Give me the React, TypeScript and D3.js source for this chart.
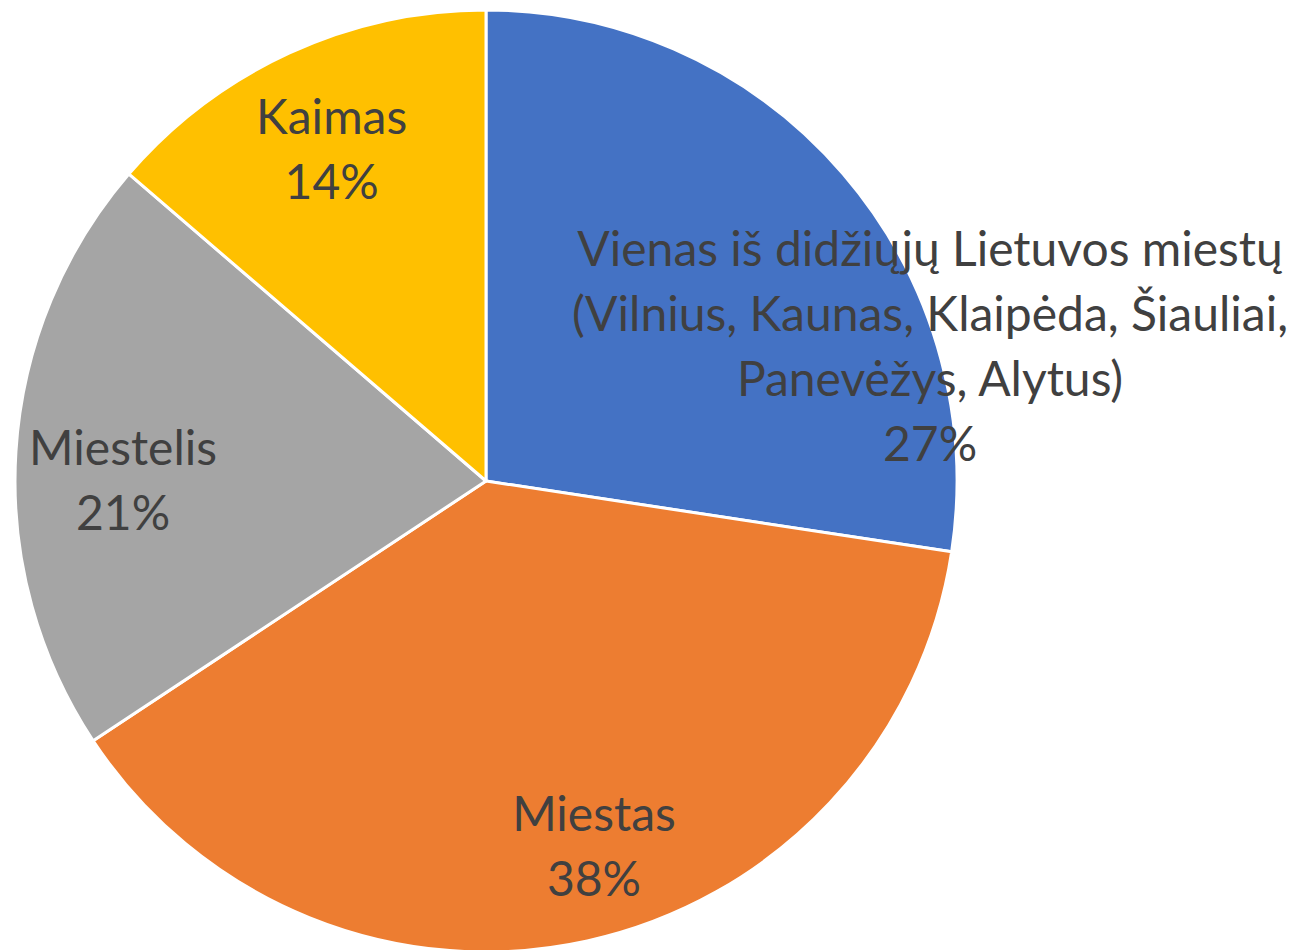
import * as d3 from 'd3';

// shares read from the slice boundaries, in percent
const categories = [
  'Vienas iš didžiųjų Lietuvos miestų (Vilnius, Kaunas, Klaipėda, Šiauliai, Panevėžys, Alytus)',
  'Miestas',
  'Miestelis',
  'Kaimas',
];
const values = [27.4, 38.3, 20.6, 13.7];
const labelLines = [
  ['Vienas iš didžiųjų Lietuvos miestų', '(Vilnius, Kaunas, Klaipėda, Šiauliai,', 'Panevėžys, Alytus)'],
  ['Miestas'],
  ['Miestelis'],
  ['Kaimas'],
];
const colors = ['#4472C4', '#ED7D31', '#A5A5A5', '#FFC000'];

const W = 1309;
const H = 950;
const cx = 486;
const cy = 481;
const radius = 471;
const fontSize = 48;
const lineHeight = 65;
// excel pushes some labels off the centroid
const labelNudge: [number, number][] = [
  [169, 100],
  [30, 10],
  [-1, 21],
  [-3, -3],
];

type Slice = { name: string; value: number; i: number };

export default function App() {
  const data: Slice[] = categories.map((name, i) => ({ name, value: values[i], i }));
  const total = d3.sum(values);
  const pie = d3.pie<Slice>().sort(null).value(d => d.value);
  const arcs = pie(data);
  const arc = d3.arc<d3.PieArcDatum<Slice>>().innerRadius(0).outerRadius(radius);
  const labelArc = d3.arc<d3.PieArcDatum<Slice>>().innerRadius(radius * 0.77).outerRadius(radius * 0.77);
  const pct = d3.format('.0%');

  return (
    <svg width={W} height={H} style={{ position: 'absolute', left: 0, top: 0 }}>
      <rect width={W} height={H} fill="#fff" />
      <g transform={`translate(${cx},${cy})`}>
        {arcs.map(a => (
          <path key={a.data.i} d={arc(a) || ''} fill={colors[a.data.i]} stroke="#fff" strokeWidth={3} strokeLinejoin="round" />
        ))}
        {arcs.map(a => {
          const [x0, y0] = labelArc.centroid(a);
          const [nx, ny] = labelNudge[a.data.i];
          const lines = [...labelLines[a.data.i], pct(a.data.value / total)];
          const x = x0 + nx;
          const y = y0 + ny - ((lines.length - 1) * lineHeight) / 2;
          return (
            <text
              key={a.data.i}
              x={x}
              y={y}
              textAnchor="middle"
              fontFamily="Lato, 'Open Sans', sans-serif"
              fontSize={fontSize}
              fill="#404040"
            >
              {lines.map((l, k) => (
                <tspan key={k} x={x} y={y + k * lineHeight} dominantBaseline="central">
                  {l}
                </tspan>
              ))}
            </text>
          );
        })}
      </g>
    </svg>
  );
}
